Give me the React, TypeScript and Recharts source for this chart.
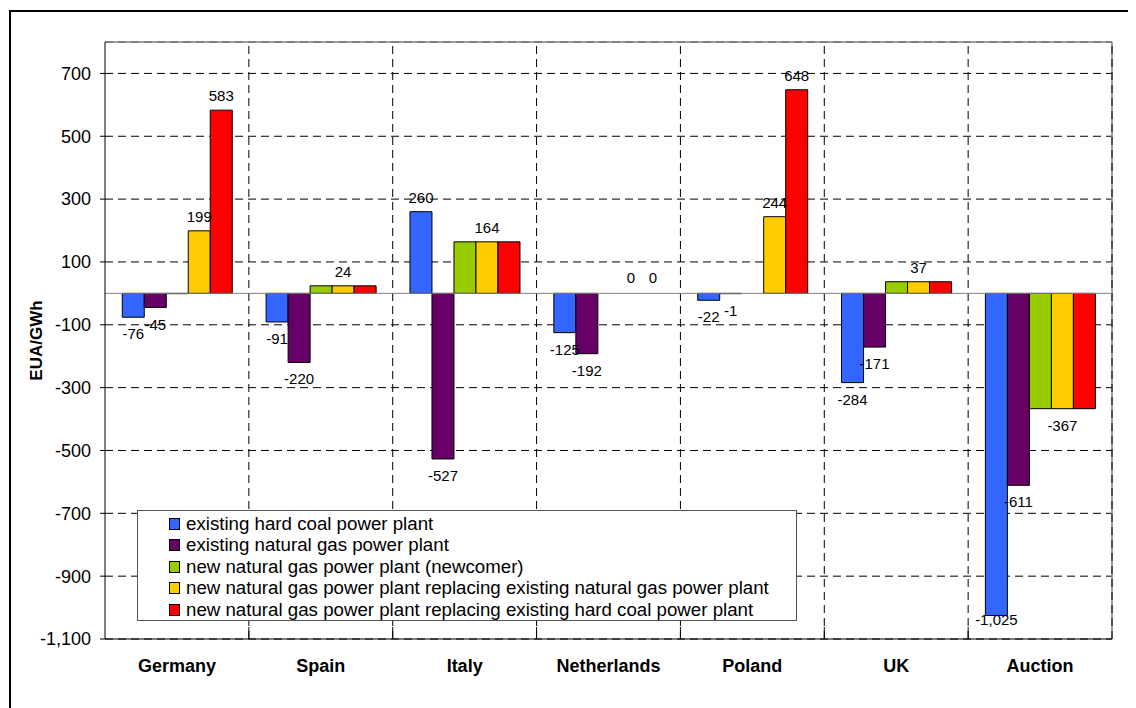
import {
  BarChart, Bar, XAxis, YAxis, CartesianGrid, ReferenceLine, LabelList, Legend, Cell
} from 'recharts'

const categories = ['Germany', 'Spain', 'Italy', 'Netherlands', 'Poland', 'UK', 'Auction']

const hardCoal = [-76, -91, 260, -125, -22, -284, -1025]
const existingGas = [-45, -220, -527, -192, -1, -171, -611]
const newcomer = [-1, 24, 164, 0, 0, 37, -367]
const replacingGas = [199, 24, 164, 0, 244, 37, -367]
const replacingCoal = [583, 24, 164, 0, 648, 37, -367]

// which bars carry a value label in the original
const hardCoalLabels = [true, true, true, true, true, true, true]
const existingGasLabels = [true, true, true, true, true, true, true]
const newcomerLabels = [false, false, false, false, false, false, false]
const replacingGasLabels = [true, true, true, true, true, true, true]
const replacingCoalLabels = [true, false, false, true, true, false, false]

const yTicks = [700, 500, 300, 100, -100, -300, -500, -700, -900, -1100]
const boundaries = [1, 2, 3, 4, 5, 6, 7]

const FONT = '"Liberation Sans", Arial, sans-serif'
const LABEL_FLOOR = 617 // labels below this would run into the category axis

const series = [
  { key: 'hardCoal', values: hardCoal, name: 'existing hard coal power plant', color: '#3366FF', shown: hardCoalLabels },
  { key: 'existingGas', values: existingGas, name: 'existing natural gas power plant', color: '#660066', shown: existingGasLabels },
  { key: 'newcomer', values: newcomer, name: 'new natural gas power plant (newcomer)', color: '#99CC00', shown: newcomerLabels },
  { key: 'replacingGas', values: replacingGas, name: 'new natural gas power plant replacing existing natural gas power plant', color: '#FFCC00', shown: replacingGasLabels },
  { key: 'replacingCoal', values: replacingCoal, name: 'new natural gas power plant replacing existing hard coal power plant', color: '#FF0000', shown: replacingCoalLabels },
]

const data = categories.map((name, i) => {
  const row: Record<string, unknown> = { name, idx: i + 0.5 }
  series.forEach(s => {
    row[s.key] = s.values[i]
    row[s.key + 'Label'] = s.shown[i] ? s.values[i] : null
  })
  return row
})

const fmt = (v: number) => v.toLocaleString('en-US')

function renderLabel(props: any) {
  const { x, y, width, height, value } = props
  if (value === null || value === undefined) return null
  const top = Math.min(y, y + height)
  const bottom = Math.max(y, y + height)
  const cx = x + width / 2
  const ty = value >= 0 ? top - 9 : Math.min(bottom + 22, LABEL_FLOOR)
  return (
    <text x={cx} y={ty} textAnchor="middle" fontSize={15} fontFamily={FONT} fill="#000">
      {fmt(value)}
    </text>
  )
}

function CategoryTick(props: any) {
  const { x, y, payload } = props
  return (
    <text x={x} y={y + 33} textAnchor="middle" fontSize={18} fontWeight="bold" fontFamily={FONT} fill="#000">
      {payload.value}
    </text>
  )
}

function LegendBox() {
  return (
    <div style={{
      width: 660, height: 111, boxSizing: 'border-box', border: '1px solid #555',
      background: '#fff', paddingTop: 2, fontFamily: FONT,
    }}>
      {series.map(s => (
        <div key={s.key} style={{ display: 'flex', alignItems: 'center', height: 21.5, paddingLeft: 31 }}>
          <span style={{
            display: 'inline-block', width: 9, height: 10, background: s.color,
            border: '1px solid #000', marginRight: 6, flex: 'none',
          }} />
          <span style={{ fontSize: 18.7, color: '#000', whiteSpace: 'nowrap' }}>{s.name}</span>
        </div>
      ))}
    </div>
  )
}

export default function App() {
  return (
    <div style={{ position: 'relative', width: 1128, height: 700, overflow: 'hidden' }}>
      <div style={{
        position: 'absolute', left: 1, top: 2, width: 1200, height: 800,
        border: '2px solid #000', boxSizing: 'border-box',
      }} />
      <div style={{ position: 'absolute', left: 0, top: 0 }}>
        <BarChart
          width={1128}
          height={700}
          data={data}
          margin={{ top: 34, right: 24, left: 0, bottom: 0 }}
          barCategoryGap="12%"
          barGap={0}
        >
          <CartesianGrid vertical={false} stroke="#000" strokeDasharray="8 5" />
          <XAxis
            dataKey="name"
            height={69}
            axisLine={{ stroke: '#000' }}
            tickLine={false}
            tickSize={0}
            tickMargin={0}
            tick={<CategoryTick />}
            interval={0}
          />
          <XAxis xAxisId="grid" dataKey="idx" type="number" domain={[0, 7]} allowDataOverflow hide />
          <YAxis
            width={97}
            domain={[-1100, 800]}
            ticks={yTicks}
            interval={0}
            allowDataOverflow
            axisLine={{ stroke: '#000' }}
            tickLine={{ stroke: '#000' }}
            tickSize={5}
            tickMargin={9}
            tick={{ fontSize: 18, fill: '#000', fontFamily: FONT }}
            tickFormatter={fmt}
            label={(p: any) => {
              const vb = p.viewBox
              const cx = vb.x + 28
              const cy = vb.y + vb.height / 2
              return (
                <text x={cx} y={cy} transform={`rotate(-90 ${cx} ${cy})`} textAnchor="middle" dominantBaseline="central"
                  fontSize={17} fontWeight="bold" fontFamily={FONT} fill="#000">
                  EUA/GWh
                </text>
              )
            }}
          />
          <ReferenceLine y={800} stroke="#808080" strokeWidth={1.5} />
          <ReferenceLine xAxisId="grid" x={7} stroke="#808080" strokeWidth={1.5} />
          {boundaries.map(b => (
            <ReferenceLine key={`v${b}`} xAxisId="grid" x={b} stroke="#000" strokeDasharray="8 5" />
          ))}
          {boundaries.slice(0, 6).map(b => (
            <ReferenceLine key={`t${b}`} xAxisId="grid" stroke="#000"
              segment={[{ x: b, y: -1100 }, { x: b, y: -1062 }]} />
          ))}
          <ReferenceLine y={0} stroke="#808080" />
          {series.map(s => (
            <Bar
              key={s.key}
              dataKey={s.key}
              name={s.name}
              fill={s.color}
              stroke="#000"
              strokeWidth={1}
              minPointSize={(v: any) => (v === 0 ? 1 : 0)}
              isAnimationActive={false}
            >
              {s.values.map((v, i) => (
                <Cell key={i} fill={v === 0 ? 'none' : s.color} stroke={v === 0 ? 'none' : '#000'} />
              ))}
              <LabelList dataKey={s.key + 'Label'} content={renderLabel} />
            </Bar>
          ))}
          <Legend
            layout="vertical"
            align="center"
            verticalAlign="middle"
            content={<LegendBox />}
            wrapperStyle={{ left: 129, top: 502, width: 660, height: 111 }}
          />
        </BarChart>
      </div>
    </div>
  )
}
